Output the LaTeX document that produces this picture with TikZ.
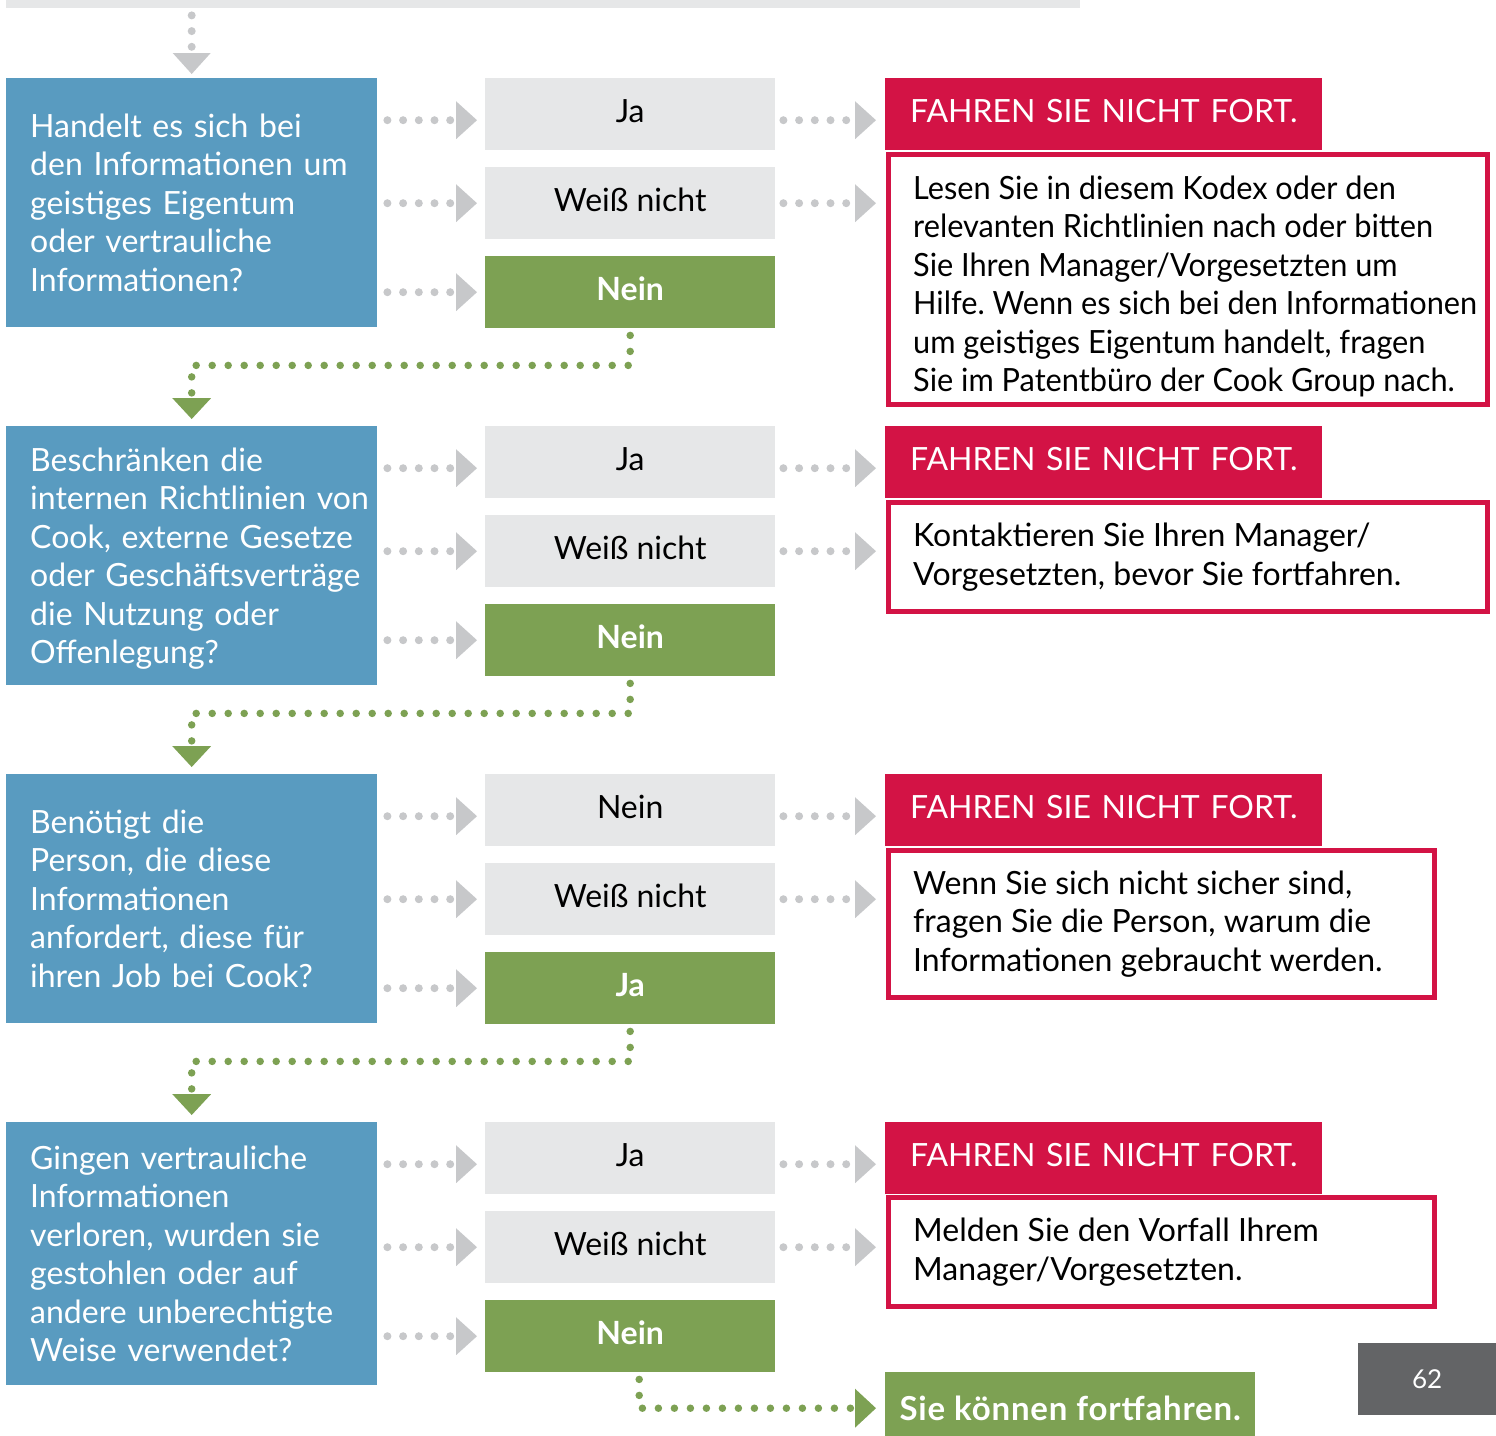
\documentclass[tikz,border=0pt]{standalone}
\usepackage{fontspec}
\setmainfont{Lato}
\newfontfamily\msgfont{Lato}[FakeStretch=0.96]
\newfontfamily\finfont{Lato}[LetterSpace=2.5]
\usetikzlibrary{arrows.meta,positioning}
\definecolor{qblue}{RGB}{89,155,192}
\definecolor{boxgray}{RGB}{230,231,232}
\definecolor{gogreen}{RGB}{125,161,83}
\definecolor{stopred}{RGB}{211,19,69}
\definecolor{arrowgray}{RGB}{199,200,202}
\definecolor{pagegray}{RGB}{99,100,102}
\newcommand{\bodyfont}{\fontsize{32}{38.5}\selectfont\frenchspacing}
\newcommand{\qlines}[1]{\raisebox{-4pt}[\height][\depth]{\begin{tabular}{@{}l@{}}#1\end{tabular}}}
\begin{document}
\begin{tikzpicture}[x=1pt, y=-1pt,
    question/.style={fill=qblue, text=white, anchor=north west, text width=323pt, inner xsep=24pt, inner ysep=0pt, align=left, font=\bodyfont},
    answer/.style={fill=boxgray, anchor=north west, minimum width=290pt, minimum height=72pt, inner sep=0pt, text height=23pt, text depth=6pt, font=\bodyfont},
    answergo/.style={answer, fill=gogreen, text=white, font=\bodyfont\bfseries},
    stophead/.style={fill=stopred, text=white, anchor=north west, minimum height=72pt, text width=387pt, inner xsep=25pt, inner ysep=0pt, text height=23pt, text depth=6pt, align=left, font=\bodyfont},
    stopframe/.style={draw=stopred, line width=5pt, anchor=north west, inner sep=0pt},
    message/.style={align=left, inner sep=0pt, font=\bodyfont},
    graydots/.style={draw=arrowgray, line width=8pt, line cap=round, dash pattern=on 0pt off 15.7pt, -{Triangle[length=21pt, width=38pt, line width=0pt]}},
    godots/.style={draw=gogreen, line width=7.5pt, line cap=round, dash pattern=on 0pt off 16pt, -{Triangle[length=21pt, width=39pt, line width=0pt]}, shorten <=7pt, shorten >=7pt}]
    \useasboundingbox (0,0) rectangle (1496,1435);
    \node[fill=boxgray, anchor=north west, minimum width=1074pt, minimum height=8pt, inner sep=0pt] (top) at (6,0) {};

    % first question
    \node[question, minimum height=249pt] (q1) at (6,78) {\qlines{Handelt es sich bei\\den Informationen um\\geistiges Eigentum\\oder vertrauliche\\Informationen?}};
    \node[answer] (o11) at (485,78) {Ja};
    \node[answer] (o12) at (485,167) {Weiß nicht};
    \node[answergo] (o13) at (485,256) {Nein};
    \node[stophead] (h1) at (885,78) {\mbox{FAHREN SIE NICHT FORT.}};
    \node[stopframe, minimum width=599pt, minimum height=250pt] (f1) at (886,152) {};
    \node[message, font=\bodyfont\msgfont, right=27pt of f1.west, yshift=-7pt] (m1) {Lesen Sie in diesem Kodex oder den\\relevanten Richtlinien nach oder bitten\\Sie Ihren Manager/Vorgesetzten um\\Hilfe. Wenn es sich bei den Informationen\\um geistiges Eigentum handelt, fragen\\Sie im Patentbüro der Cook Group nach.};

    % second question
    \node[question, minimum height=259pt] (q2) at (6,426) {\qlines{Beschränken die\\internen Richtlinien von\\Cook, externe Gesetze\\oder Geschäftsverträge\\die Nutzung oder\\Offenlegung?}};
    \node[answer] (o21) at (485,426) {Ja};
    \node[answer] (o22) at (485,515) {Weiß nicht};
    \node[answergo] (o23) at (485,604) {Nein};
    \node[stophead] (h2) at (885,426) {\mbox{FAHREN SIE NICHT FORT.}};
    \node[stopframe, minimum width=599pt, minimum height=109pt] (f2) at (886,500) {};
    \node[message, right=27pt of f2.west] (m2) {Kontaktieren Sie Ihren Manager/\\Vorgesetzten, bevor Sie fortfahren.};

    % third question
    \node[question, minimum height=249pt] (q3) at (6,774) {\qlines{Benötigt die\\Person, die diese\\Informationen\\anfordert, diese für\\ihren Job bei Cook?}};
    \node[answer] (o31) at (485,774) {Nein};
    \node[answer] (o32) at (485,863) {Weiß nicht};
    \node[answergo] (o33) at (485,952) {Ja};
    \node[stophead] (h3) at (885,774) {\mbox{FAHREN SIE NICHT FORT.}};
    \node[stopframe, minimum width=546pt, minimum height=147pt] (f3) at (886,848) {};
    \node[message, right=27pt of f3.west] (m3) {Wenn Sie sich nicht sicher sind,\\fragen Sie die Person, warum die\\Informationen gebraucht werden.};

    % fourth question
    \node[question, minimum height=263pt] (q4) at (6,1122) {\qlines{Gingen vertrauliche\\Informationen\\verloren, wurden sie\\gestohlen oder auf\\andere unberechtigte\\Weise verwendet?}};
    \node[answer] (o41) at (485,1122) {Ja};
    \node[answer] (o42) at (485,1211) {Weiß nicht};
    \node[answergo] (o43) at (485,1300) {Nein};
    \node[stophead] (h4) at (885,1122) {\mbox{FAHREN SIE NICHT FORT.}};
    \node[stopframe, minimum width=546pt, minimum height=109pt] (f4) at (886,1195) {};
    \node[message, right=27pt of f4.west] (m4) {Melden Sie den Vorfall Ihrem\\Manager/Vorgesetzten.};

    \node[fill=gogreen, text=white, anchor=north west, minimum width=370pt, minimum height=72pt, inner sep=0pt, font=\fontsize{33}{38}\selectfont\finfont\bfseries] (fin) at (885,1372) {Sie können fortfahren.};
    \node[fill=pagegray, text=white, anchor=north west, minimum width=138pt, minimum height=72pt, inner sep=0pt, font=\fontsize{26}{30}\selectfont] (page) at (1358,1343) {62};

    % gray arrows
    \draw[graydots, shorten <=7pt, shorten >=4pt] (top.south -| q1.north) -- (q1.north);
    \draw[graydots, shorten <=10pt, shorten >=8pt] ([yshift=-6pt]q1.east |- o11.west) -- ([yshift=-6pt]o11.west);
    \draw[graydots, shorten <=10pt, shorten >=8pt] (q1.east |- o12.west) -- (o12.west);
    \draw[graydots, shorten <=10pt, shorten >=8pt] (q1.east |- o13.west) -- (o13.west);
    \draw[graydots, shorten <=8pt, shorten >=9pt] ([yshift=-6pt]o11.east) -- ([yshift=-6pt]h1.west);
    \draw[graydots, shorten <=8pt, shorten >=9pt] (o12.east) -- (o12.east -| h1.west);
    \draw[graydots, shorten <=10pt, shorten >=8pt] ([yshift=-6pt]q2.east |- o21.west) -- ([yshift=-6pt]o21.west);
    \draw[graydots, shorten <=10pt, shorten >=8pt] (q2.east |- o22.west) -- (o22.west);
    \draw[graydots, shorten <=10pt, shorten >=8pt] (q2.east |- o23.west) -- (o23.west);
    \draw[graydots, shorten <=8pt, shorten >=9pt] ([yshift=-6pt]o21.east) -- ([yshift=-6pt]h2.west);
    \draw[graydots, shorten <=8pt, shorten >=9pt] (o22.east) -- (o22.east -| h2.west);
    \draw[graydots, shorten <=10pt, shorten >=8pt] ([yshift=-6pt]q3.east |- o31.west) -- ([yshift=-6pt]o31.west);
    \draw[graydots, shorten <=10pt, shorten >=8pt] (q3.east |- o32.west) -- (o32.west);
    \draw[graydots, shorten <=10pt, shorten >=8pt] (q3.east |- o33.west) -- (o33.west);
    \draw[graydots, shorten <=8pt, shorten >=9pt] ([yshift=-6pt]o31.east) -- ([yshift=-6pt]h3.west);
    \draw[graydots, shorten <=8pt, shorten >=9pt] (o32.east) -- (o32.east -| h3.west);
    \draw[graydots, shorten <=10pt, shorten >=8pt] ([yshift=-6pt]q4.east |- o41.west) -- ([yshift=-6pt]o41.west);
    \draw[graydots, shorten <=10pt, shorten >=8pt] (q4.east |- o42.west) -- (o42.west);
    \draw[graydots, shorten <=10pt, shorten >=8pt] (q4.east |- o43.west) -- (o43.west);
    \draw[graydots, shorten <=8pt, shorten >=9pt] ([yshift=-6pt]o41.east) -- ([yshift=-6pt]h4.west);
    \draw[graydots, shorten <=8pt, shorten >=9pt] (o42.east) -- (o42.east -| h4.west);

    % green arrows
    \draw[godots] (o13.south) -- ++(0,37) -| (q2.north);
    \draw[godots] (o23.south) -- ++(0,37) -| (q3.north);
    \draw[godots] (o33.south) -- ++(0,37) -| (q4.north);
    \draw[godots, shorten >=9pt] ([xshift=9pt]o43.south) |- (fin.west);
\end{tikzpicture}
\end{document}
